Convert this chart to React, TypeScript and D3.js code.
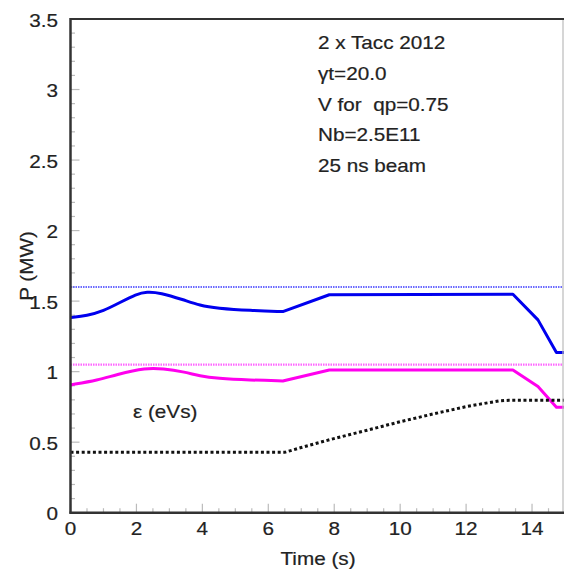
import React from "react";
import * as d3 from "d3";

const W = 564;
const H = 569;

// Data
const bluePower: [number, number][] = [
  [0, 1.383], [0.5, 1.397], [1, 1.43], [1.5, 1.49], [2, 1.55], [2.31, 1.567],
  [2.72, 1.56], [3.42, 1.51], [3.93, 1.468], [4.44, 1.45], [5.45, 1.433],
  [6.44, 1.426], [7.85, 1.545], [13.42, 1.549], [14.18, 1.367], [14.74, 1.135], [15, 1.135],
];
const magentaPower: [number, number][] = [
  [0, 0.906], [0.85, 0.941], [1.36, 0.977], [2.31, 1.028], [2.8, 1.02],
  [3.42, 1.0], [3.93, 0.969], [4.44, 0.953], [5.45, 0.94], [6.44, 0.934],
  [7.85, 1.012], [13.42, 1.012], [14.18, 0.894], [14.74, 0.747], [15, 0.747],
];
const emittance: [number, number][] = [
  [0, 0.428], [6.5, 0.428], [7.0, 0.462], [7.9, 0.52], [9, 0.585], [10, 0.645],
  [11, 0.7], [12, 0.752], [13, 0.793], [13.3, 0.797], [15, 0.797],
];
const blueLimit = 1.6;
const magentaLimit = 1.05;
const smoothUntil = 6.44; // time up to which the power curves are smooth

const xMajor = [0, 2, 4, 6, 8, 10, 12, 14];
const yMajor = [0, 0.5, 1, 1.5, 2, 2.5, 3, 3.5];
const yLabels = ["0", "0.5", "1", "1.5", "2", "2.5", "3", "3.5"];
const annotations = ["2 x Tacc 2012", "γt=20.0", "V for  qp=0.75", "Nb=2.5E11", "25 ns beam"];

const FONT = "'Liberation Sans', Arial, Helvetica, sans-serif";
const SX = 1.15;
const TXT = "#222";

export default function App() {
  const x = d3.scaleLinear().domain([0, 15]).range([70.5, 565]);
  const y = d3.scaleLinear().domain([0, 3.5]).range([512.7, 19]);

  const smooth = d3
    .line<[number, number]>()
    .x((d) => x(d[0]))
    .y((d) => y(d[1]))
    .curve(d3.curveBasis);
  const lineLin = d3
    .line<[number, number]>()
    .x((d) => x(d[0]))
    .y((d) => y(d[1]));

  const seriesPath = (data: [number, number][]) => {
    const a = data.filter((d) => d[0] <= smoothUntil);
    const b = data.filter((d) => d[0] >= smoothUntil);
    return (smooth(a) ?? "") + (lineLin(b) ?? "").replace(/^M/, "L");
  };

  const xMinor = d3.range(0, 15.001, 0.5).filter((v) => Math.abs(v % 2) > 1e-6);
  const yMinor = d3.range(0, 3.5001, 0.1).filter((v) => Math.abs((v * 10) % 5) > 1e-6);

  const T = (
    tx: number,
    ty: number,
    s: string,
    anchor: "start" | "middle" | "end" = "start",
    rot = 0,
    size = 18
  ) => (
    <g transform={`translate(${tx},${ty}) rotate(${rot}) scale(${SX},1)`}>
      <text
        x={0}
        y={0}
        textAnchor={anchor}
        fontFamily={FONT}
        fontSize={size}
        fill={TXT}
        stroke={TXT}
        strokeWidth={0.2}
        style={{ whiteSpace: "pre" }}
      >
        {s}
      </text>
    </g>
  );

  const x0 = x(0);
  const y0 = y(0);
  const xr = 563;
  const yt = y(3.5);

  return (
    <svg
      width={W}
      height={H}
      style={{ position: "absolute", left: 0, top: 0, background: "#fff" }}
    >
      <rect x={0} y={0} width={W} height={H} fill="#fff" />
      {/* ticks */}
      {yMajor.map((v) => (
        <line key={"ym" + v} x1={x0} x2={x0 + 9} y1={y(v)} y2={y(v)} stroke="#bbb" strokeWidth={1.2} />
      ))}
      {yMinor.map((v, i) => (
        <line key={"yn" + i} x1={x0} x2={x0 + 4.5} y1={y(v)} y2={y(v)} stroke="#bbb" strokeWidth={1.2} />
      ))}
      {xMajor.map((v) => (
        <line key={"xm" + v} x1={x(v)} x2={x(v)} y1={y0} y2={y0 - 9} stroke="#bbb" strokeWidth={1.2} />
      ))}
      {xMinor.map((v, i) => (
        <line key={"xn" + i} x1={x(v)} x2={x(v)} y1={y0} y2={y0 - 4.5} stroke="#bbb" strokeWidth={1.2} />
      ))}

      {/* limit lines */}
      <line x1={x0} x2={xr} y1={y(blueLimit)} y2={y(blueLimit)} stroke="#6a6aff" strokeWidth={2.2} strokeDasharray="1.5,1" />
      <line x1={x0} x2={xr} y1={y(magentaLimit)} y2={y(magentaLimit)} stroke="#ff66ff" strokeWidth={2.2} strokeDasharray="1.5,1" />

      {/* series */}
      <path d={seriesPath(bluePower)} fill="none" stroke="#0000ee" strokeWidth={3} strokeLinejoin="round" />
      <path d={seriesPath(magentaPower)} fill="none" stroke="#ff00ee" strokeWidth={3} strokeLinejoin="round" />
      <path d={lineLin(emittance) ?? ""} fill="none" stroke="#111" strokeWidth={3} strokeDasharray="3,2.6" />

      {/* frame */}
      <line x1={xr} x2={xr} y1={yt} y2={y0} stroke="#bbb" strokeWidth={1.2} />
      <line x1={x0} x2={xr + 1} y1={yt} y2={yt} stroke="#333" strokeWidth={2.2} />
      <line x1={x0} x2={x0} y1={yt - 1} y2={y0 + 1} stroke="#333" strokeWidth={2.5} />
      <line x1={x0 - 1} x2={xr + 1} y1={y0} y2={y0} stroke="#333" strokeWidth={2.5} />

      {/* tick labels */}
      {yMajor.map((v, i) => (
        <React.Fragment key={"yl" + v}>{T(58, y(v) + 7.5, yLabels[i], "end")}</React.Fragment>
      ))}
      {xMajor.map((v) => (
        <React.Fragment key={"xl" + v}>{T(x(v), 535, String(v), "middle")}</React.Fragment>
      ))}

      {/* axis titles */}
      {T(318, 565, "Time (s)", "middle")}
      {T(33, 266, "P (MW)", "middle", -90)}

      {/* annotations */}
      {annotations.map((s, i) => (
        <React.Fragment key={"an" + i}>{T(318, 49.3 + i * 30.6, s)}</React.Fragment>
      ))}
      {T(133, 418, "ε (eVs)")}
    </svg>
  );
}
